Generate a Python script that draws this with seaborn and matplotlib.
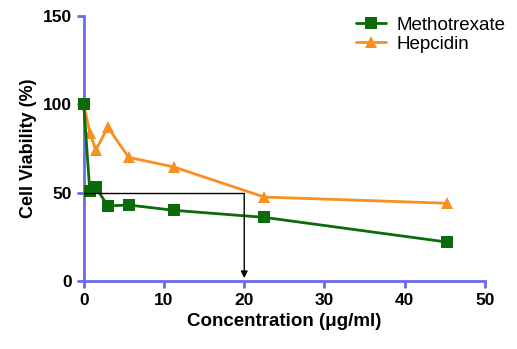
import matplotlib
matplotlib.use("Agg")
import matplotlib.pyplot as plt
import seaborn as sns
import pandas as pd

# data
conc = [0, 0.75, 1.5, 3, 5.6, 11.25, 22.5, 45.3]
methotrexate = [100, 51, 53, 42.5, 43, 40, 36, 22]
hepcidin = [100, 84, 74, 87, 70, 64.5, 47.5, 44]

df = pd.DataFrame({
    "conc": conc * 2,
    "viability": hepcidin + methotrexate,
    "drug": ["Hepcidin"] * len(conc) + ["Methotrexate"] * len(conc),
})

sns.set_style("white")
plt.rcParams["font.family"] = ["Liberation Sans", "DejaVu Sans"]
plt.rcParams["text.color"] = "black"
plt.rcParams["axes.labelcolor"] = "black"
plt.rcParams["xtick.color"] = "black"
plt.rcParams["ytick.color"] = "black"

fig = plt.figure(figsize=(5.17, 3.49), dpi=100)
ax = fig.add_axes([0.162, 0.195, 0.776, 0.759])

palette = {"Methotrexate": "#0b6b0b", "Hepcidin": "#f7901e"}
markers = {"Methotrexate": "s", "Hepcidin": "^"}
sns.lineplot(data=df, x="conc", y="viability", hue="drug", style="drug",
             palette=palette, markers=markers, dashes=False, markersize=8,
             markeredgewidth=0, linewidth=2, ax=ax)
for ln in ax.lines:
    ln.set_clip_on(False)

# IC50 guide line
ax.plot([0, 20], [50, 50], color="black", lw=1)
ax.annotate("", xy=(20, 0), xytext=(20, 50.5),
            arrowprops=dict(arrowstyle="-|>", color="black", lw=1, mutation_scale=10))

ax.set_xlim(0, 50)
ax.set_ylim(0, 150)
ax.set_xticks([0, 10, 20, 30, 40, 50])
ax.set_yticks([0, 50, 100, 150])
for s in ["top", "right"]:
    ax.spines[s].set_visible(False)
for s in ["left", "bottom"]:
    ax.spines[s].set_color("#6a6ae8")
    ax.spines[s].set_linewidth(2)
    ax.spines[s].set_zorder(1)
ax.tick_params(axis="both", direction="out", length=5, width=2, color="#6a6ae8",
               labelsize=12.5, bottom=True, left=True, labelcolor="black")
for lab in ax.get_xticklabels() + ax.get_yticklabels():
    lab.set_fontweight("bold")

ax.set_xlabel("Concentration (\u03bcg/ml)", fontsize=13.5, fontweight="bold")
ax.set_ylabel("Cell Viability (%)", fontsize=13, fontweight="bold")

handles, labels = ax.get_legend_handles_labels()
order = [labels.index("Methotrexate"), labels.index("Hepcidin")]
ax.legend_.remove()
fig.legend([handles[i] for i in order], [labels[i] for i in order],
           loc="upper left", bbox_to_anchor=(0.655, 1.0),
           frameon=False, fontsize=13.5, handlelength=1.6, labelspacing=0.1,
           handletextpad=0.6)

fig.savefig("out.png", dpi=100)
